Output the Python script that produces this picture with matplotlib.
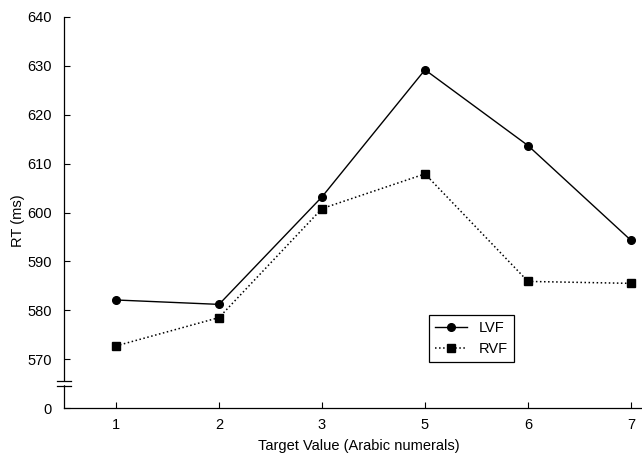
import matplotlib.pyplot as plt
import numpy as np

plt.rcParams['font.family'] = ['Liberation Sans', 'DejaVu Sans']

#data
targets = ['1', '2', '3', '5', '6', '7']
lvf = [582.1, 581.2, 603.2, 629.2, 613.7, 594.3]
rvf = [572.7, 578.5, 600.8, 607.9, 585.9, 585.5]

y_ticks = [560, 570, 580, 590, 600, 610, 620, 630, 640]
y_labels = ['0', '570', '580', '590', '600', '610', '620', '630', '640']

x = np.arange(len(targets))

fig = plt.figure(figsize=(6.42, 4.55), dpi=100)
ax = fig.add_axes([64/642, 1 - 408/455, (642-64)/642, (408-17)/455])

ax.plot(x, lvf, '-', color='black', lw=1.0, marker='o', ms=5.5, label='LVF')
ax.plot(x, rvf, ':', color='black', lw=1.1, marker='s', ms=5.5, label='RVF')

ax.set_xlim(-0.505, 5.107)
ax.set_ylim(560, 640)
ax.set_xticks(x)
ax.set_xticklabels(targets)
ax.set_yticks(y_ticks)
ax.set_yticklabels(y_labels)
ax.tick_params(direction='in', length=4, width=0.8, labelsize=10.5)
ax.tick_params(axis='y', pad=9)
ax.tick_params(axis='x', pad=7)

for s in ['top', 'right']:
    ax.spines[s].set_visible(False)
for s in ['left', 'bottom']:
    ax.spines[s].set_linewidth(0.9)

#axis break marks
tr = ax.get_yaxis_transform()
ax.plot([-0.005, 0.005], [565.1, 565.1], color='white', lw=2.5, transform=tr, clip_on=False, zorder=5)
for yb in [565.6, 564.6]:
    ax.plot([-0.012, 0.012], [yb, yb], color='black', lw=0.9, transform=tr, clip_on=False, zorder=6)

ax.set_xlabel('Target Value (Arabic numerals)', fontsize=10.5, va='center')
ax.xaxis.set_label_coords(0.51, -0.097)
ax.set_ylabel('RT (ms)', fontsize=10.5, va='center')
ax.yaxis.set_label_coords(-0.08, 0.478)

leg = ax.legend(loc='upper left', bbox_to_anchor=(429/642, 1 - 315/455),
                bbox_transform=fig.transFigure, borderaxespad=0,
                fancybox=False, edgecolor='black', framealpha=1,
                fontsize=10.5, handlelength=2.2)
leg.get_frame().set_linewidth(0.9)

fig.savefig('out.png', dpi=100)
